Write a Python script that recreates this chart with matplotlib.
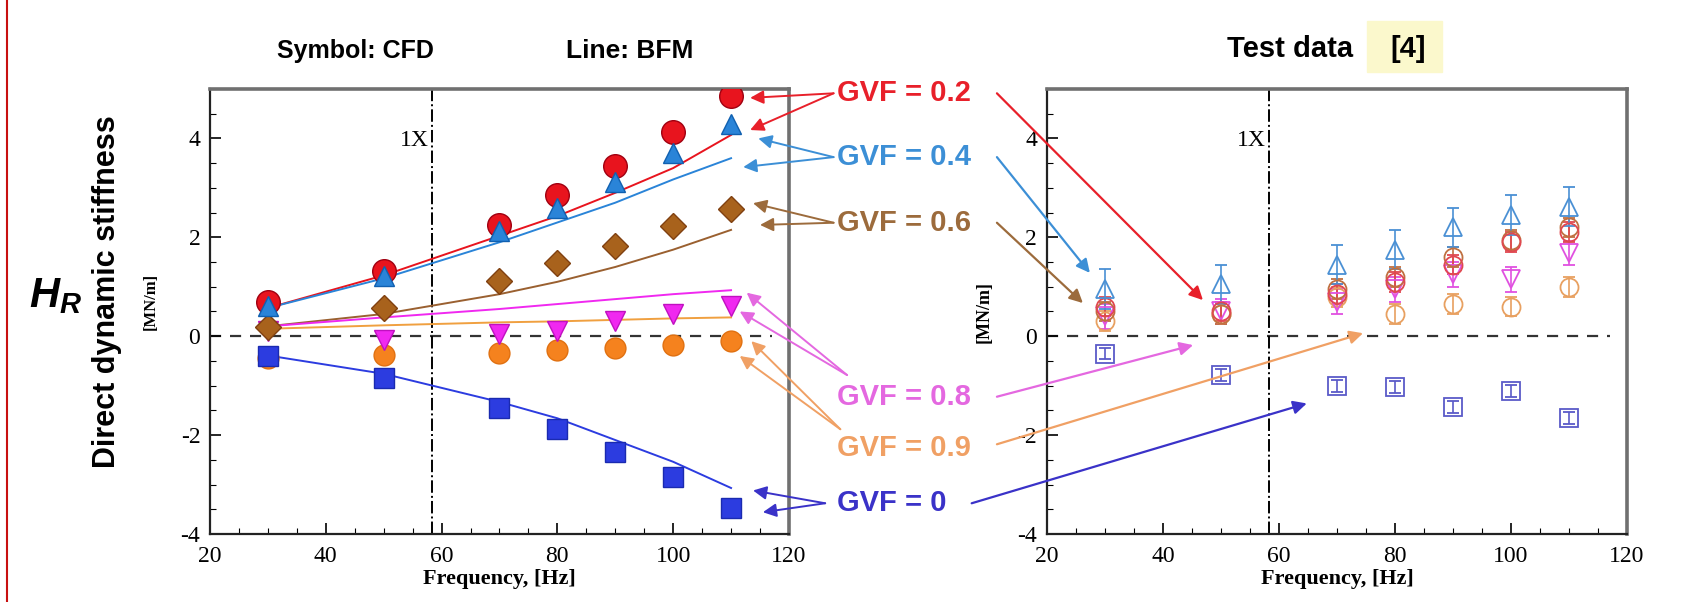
import matplotlib
matplotlib.use("Agg")
import matplotlib.pyplot as plt
from matplotlib.patches import ConnectionPatch, Rectangle
from matplotlib.lines import Line2D
from matplotlib.ticker import MultipleLocator

plt.rcParams["axes.unicode_minus"] = False
plt.rcParams["mathtext.fontset"] = "custom"
plt.rcParams["mathtext.it"] = "Liberation Sans:italic:bold"
plt.rcParams["mathtext.rm"] = "Liberation Sans:bold"

freq = [30, 50, 70, 80, 90, 100, 110]
gvf_labels = ["GVF = 0.2", "GVF = 0.4", "GVF = 0.6", "GVF = 0.8", "GVF = 0.9", "GVF = 0"]

# CFD results (symbols, left panel), MN/m
cfd_gvf02 = [0.70, 1.32, 2.25, 2.85, 3.45, 4.12, 4.86]
cfd_gvf04 = [0.62, 1.22, 2.12, 2.60, 3.12, 3.70, 4.30]
cfd_gvf06 = [0.18, 0.58, 1.12, 1.48, 1.82, 2.22, 2.58]
cfd_gvf08 = [0.10, -0.08, 0.05, 0.10, 0.30, 0.45, 0.62]
cfd_gvf09 = [-0.45, -0.38, -0.33, -0.28, -0.24, -0.18, -0.10]
cfd_gvf0 = [-0.40, -0.84, -1.46, -1.88, -2.34, -2.84, -3.48]

# BFM results (lines, left panel)
bfm_gvf02 = [0.57, 1.23, 2.03, 2.43, 2.90, 3.40, 4.07]
bfm_gvf04 = [0.57, 1.17, 1.90, 2.30, 2.70, 3.17, 3.60]
bfm_gvf06 = [0.20, 0.45, 0.85, 1.10, 1.40, 1.75, 2.15]
bfm_gvf08 = [0.20, 0.38, 0.55, 0.65, 0.75, 0.85, 0.93]
bfm_gvf09 = [0.15, 0.22, 0.28, 0.30, 0.33, 0.36, 0.38]
bfm_gvf0 = [-0.39, -0.76, -1.33, -1.66, -2.10, -2.54, -3.07]

# Test data (right panel) and error bar half-widths
test_gvf02 = [0.60, 0.50, 0.85, 1.10, 1.45, 1.90, 2.10]
test_gvf04 = [0.95, 1.05, 1.45, 1.75, 2.20, 2.45, 2.62]
test_gvf06 = [0.50, 0.45, 0.95, 1.20, 1.60, 1.95, 2.20]
test_gvf08 = [0.40, 0.50, 0.70, 0.95, 1.25, 1.15, 1.68]
test_gvf09 = [0.30, 0.45, 0.80, 0.45, 0.65, 0.60, 1.00]
test_gvf0 = [-0.35, -0.78, -1.00, -1.03, -1.43, -1.10, -1.66]
test_err = [0.20, 0.40, 0.20, 0.25, 0.20, 0.12]

one_x = 58.3  # running speed

c_red, c_blue, c_brown = "#e8141e", "#2a84d8", "#a8621c"
c_mag, c_orange, c_navy = "#f028f0", "#f5821e", "#2c3ce0"
label_colors = ["#e8202a", "#3c8fd6", "#9c6b3c", "#e468e0", "#f0a064", "#3a32c8"]

fig = plt.figure(figsize=(16.84, 6.02), dpi=100)
ax1 = fig.add_axes([0.1247, 0.113, 0.3438, 0.7392])
ax2 = fig.add_axes([0.6217, 0.113, 0.3444, 0.7392])

serif = "Liberation Serif"
sans = "Liberation Sans"

for ax in (ax1, ax2):
    ax.set_xlim(20, 120)
    ax.set_ylim(-4, 5)
    ax.set_xticks([20, 40, 60, 80, 100, 120])
    ax.set_yticks([-4, -2, 0, 2, 4])
    ax.xaxis.set_minor_locator(MultipleLocator(5))
    ax.yaxis.set_minor_locator(MultipleLocator(0.5))
    ax.tick_params(which="major", direction="in", length=8, width=1.2, labelsize=17)
    ax.tick_params(axis="x", which="major", pad=9)
    ax.tick_params(axis="y", which="major", pad=7)
    ax.tick_params(which="minor", direction="in", length=4, width=0.8)
    for lab in ax.get_xticklabels() + ax.get_yticklabels():
        lab.set_family(serif)
    for s in ("left", "bottom"):
        ax.spines[s].set_linewidth(1.6)
        ax.spines[s].set_color("#222222")
    for s in ("top", "right"):
        ax.spines[s].set_linewidth(2.6)
        ax.spines[s].set_color("#707070")
    ax.set_xlabel("Frequency, [Hz]", family=serif, fontweight="bold", fontsize=16, labelpad=1)
    ax.axvline(one_x, color="black", ls="-.", lw=1.4)
    ax.plot([20, 117], [0, 0], color="#333333", ls=(0, (5, 4)), lw=1.6, zorder=1)
    ax.text(one_x - 0.5, 3.95, "1X", family=serif, fontsize=17, ha="right", va="center")

# BFM lines
for vals, c in [(bfm_gvf02, c_red), (bfm_gvf04, c_blue), (bfm_gvf06, "#9a6030"),
                (bfm_gvf08, c_mag), (bfm_gvf09, "#f0a040"), (bfm_gvf0, c_navy)]:
    ax1.plot(freq, vals, color=c, lw=1.4, zorder=2)

# CFD symbols
ax1.plot(freq, cfd_gvf09, "o", ms=15, color=c_orange, mec="#e07010", zorder=3)
ax1.plot(freq, cfd_gvf0, "s", ms=14, color=c_navy, mec="#1a2ab0", zorder=3)
ax1.plot(freq, cfd_gvf08, "v", ms=14, color=c_mag, mec="#c010c0", zorder=4)
ax1.plot(freq, cfd_gvf06, "D", ms=13, color=c_brown, mec="#804010", zorder=4)
ax1.plot(freq, cfd_gvf02, "o", ms=17, color=c_red, mec="#a00010", zorder=4)
ax1.plot(freq, cfd_gvf04, "^", ms=14, color=c_blue, mec="#1060b0", zorder=5)

# Test data, open symbols with error bars
test_sets = [
    (test_gvf0, "s", "#5a5ac8", test_err[5]),
    (test_gvf09, "o", "#e8a060", test_err[4]),
    (test_gvf08, "v", "#e050e0", test_err[3]),
    (test_gvf06, "o", "#c07040", test_err[2]),
    (test_gvf02, "o", "#e04850", test_err[0]),
    (test_gvf04, "^", "#4a90d4", test_err[1]),
]
for vals, m, c, e in test_sets:
    ax2.errorbar(freq, vals, yerr=e, fmt=m, ms=13, mfc="none", mec=c, ecolor=c,
                 mew=1.3, elinewidth=1.2, capsize=4, zorder=3)

# axis labels
fig.text(0.0895, 0.50, "[MN/m]", rotation=90, family=serif, fontweight="bold",
         fontsize=12, ha="center", va="center")
fig.text(0.5845, 0.482, "[MN/m]", rotation=90, family=serif, fontweight="bold",
         fontsize=13, ha="center", va="center")
fig.text(0.0635, 0.515, "Direct dynamic stiffness", rotation=90, family=sans,
         fontweight="bold", fontsize=22, ha="center", va="center")
fig.text(0.017, 0.51, r"$H_R$", fontsize=30, ha="left", va="center")

# headings
fig.text(0.211, 0.915, "Symbol: CFD", family=sans, fontweight="bold", fontsize=18,
         ha="center", va="center")
fig.text(0.374, 0.915, "Line: BFM", family=sans, fontweight="bold", fontsize=19,
         ha="center", va="center")
fig.add_artist(Rectangle((0.812, 0.88), 0.044, 0.085, transform=fig.transFigure,
                         color="#fbf8cc", zorder=0))
fig.add_artist(Rectangle((0.827, 0.759), 0.034, 0.077, transform=fig.transFigure,
                         color="#fbe6c8", zorder=0))
fig.text(0.766, 0.919, "Test data", family=sans, fontweight="bold", fontsize=21,
         ha="center", va="center")
fig.text(0.836, 0.919, "[4]", family=sans, fontweight="bold", fontsize=21,
         ha="center", va="center")

# left page border
fig.add_artist(Line2D([0.004, 0.004], [0, 1], transform=fig.transFigure,
                      color="#c81010", lw=1.5))

# GVF labels and leader arrows
label_y = [0.845, 0.739, 0.630, 0.341, 0.256, 0.164]
label_x = 0.497
left_start = [(0.495, 0.845), (0.495, 0.739), (0.495, 0.630),
              (0.503, 0.377), (0.499, 0.287), (0.490, 0.164)]
left_targets = [[(113.3, 4.82), (113.3, 4.17)],
                [(114.7, 4.00), (112.1, 3.42)],
                [(113.8, 2.69), (115.0, 2.25)],
                [(112.7, 0.88), (111.5, 0.50)],
                [(113.5, -0.10), (111.5, -0.40)],
                [(113.8, -3.12), (115.5, -3.56)]]
right_start = [(0.592, 0.845), (0.592, 0.739), (0.592, 0.630),
               (0.592, 0.341), (0.592, 0.262), (0.577, 0.164)]
right_targets = [(46.9, 0.73), (27.4, 1.28), (26.2, 0.67),
                 (45.2, -0.18), (74.5, 0.06), (64.8, -1.36)]

for i, txt in enumerate(gvf_labels):
    c = label_colors[i]
    fig.text(label_x, label_y[i], txt, color=c, family=sans, fontsize=21,
             fontweight="bold", ha="left", va="center")
    for tgt in left_targets[i]:
        con = ConnectionPatch(xyA=left_start[i], coordsA="figure fraction",
                              xyB=tgt, coordsB=ax1.transData,
                              arrowstyle="-|>", mutation_scale=20, color=c, lw=1.4)
        fig.add_artist(con)
    con = ConnectionPatch(xyA=right_start[i], coordsA="figure fraction",
                          xyB=right_targets[i], coordsB=ax2.transData,
                          arrowstyle="-|>", mutation_scale=20, color=c, lw=1.6)
    fig.add_artist(con)

fig.savefig("out.png", dpi=100)
